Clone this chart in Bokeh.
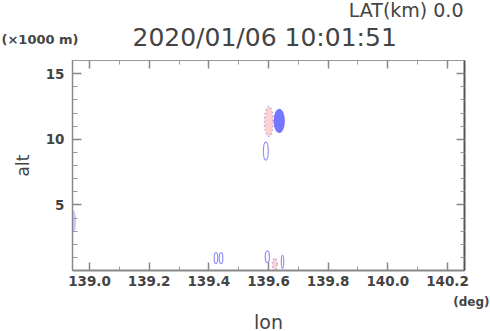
from bokeh.plotting import figure
from bokeh.models import Range1d, FixedTicker, LinearAxis, Title
from bokeh.embed import file_html
from bokeh.resources import INLINE

# ---- data ----
x_major = [139.0, 139.2, 139.4, 139.6, 139.8, 140.0, 140.2]
x_minor = [138.9, 139.1, 139.3, 139.5, 139.7, 139.9, 140.1, 140.3]
y_major = [5, 10, 15]
y_minor = [1, 2, 3, 4, 6, 7, 8, 9, 11, 12, 13, 14, 16]
x_labels = {139.0: "139.0", 139.2: "139.2", 139.4: "139.4", 139.6: "139.6",
            139.8: "139.8", 140.0: "140.0", 140.2: "140.2"}
title_text = "2020/01/06 10:01:51"
lat_text = "LAT(km) 0.0"
unit_y_text = "(\u00d71000 m)"
unit_x_text = "(deg)"
x_name = "lon"
y_name = "alt"

# filled echoes (lon, alt, width deg, height km)
fill_lon = [139.636, 138.947, 140.260]
fill_alt = [11.40, 3.75, 1.60]
fill_w = [0.038, 0.016, 0.012]
fill_h = [1.85, 1.70, 2.10]
fill_col = ["#7676ff", "#cacaff", "#cacaff"]

# pink echoes with dotted outline
pink_lon = [139.601, 139.621]
pink_alt = [11.35, 0.45]
pink_w = [0.030, 0.017]
pink_h = [2.30, 1.00]

# outline-only echoes
ring_lon = [139.591, 139.424, 139.441, 139.596, 139.647]
ring_alt = [9.10, 0.95, 0.95, 1.05, 0.65]
ring_w = [0.016, 0.012, 0.012, 0.014, 0.008]
ring_h = [1.38, 0.84, 0.84, 0.90, 1.00]

W, H = 490, 331
TXT = "#444444"
FONT = "DejaVu Sans"

p = figure(width=W, height=H, output_backend="svg", toolbar_location=None,
           x_range=Range1d(138.943, 140.257), y_range=Range1d(0, 16),
           min_border_left=72, min_border_right=26, min_border_top=60,
           min_border_bottom=61, x_axis_location=None, y_axis_location=None)
p.xgrid.visible = False
p.ygrid.visible = False
p.outline_line_color = "#8a8a8a"
p.outline_line_width = 1

p.ellipse(x=fill_lon, y=fill_alt, width=fill_w, height=fill_h,
          fill_color=fill_col, line_color=None)
p.ellipse(x=pink_lon, y=pink_alt, width=pink_w, height=pink_h,
          fill_color="#ffd0d0", line_color="#8c8cff", line_width=1.2,
          line_dash="1 3")
p.ellipse(x=ring_lon, y=ring_alt, width=ring_w, height=ring_h,
          fill_color=None, line_color="#9090ff", line_width=1.2)


def style_axis(ax, line_color, line_width, show_labels):
    ax.axis_line_color = line_color
    ax.axis_line_width = line_width
    ax.major_tick_in = 8
    ax.major_tick_out = 0
    ax.minor_tick_in = 4
    ax.minor_tick_out = 0
    ax.major_tick_line_color = "#888888"
    ax.minor_tick_line_color = "#999999"
    ax.major_tick_line_width = 1.5
    ax.major_label_text_font = FONT
    ax.major_label_text_font_style = "bold"
    ax.major_label_text_font_size = "13.5px"
    ax.major_label_text_color = TXT
    if not show_labels:
        ax.major_label_text_font_size = "0px"
        ax.major_label_standoff = 0


xb = LinearAxis(ticker=FixedTicker(ticks=x_major, minor_ticks=x_minor),
                major_label_overrides=x_labels)
style_axis(xb, "#888888", 2, True)
xb.major_label_standoff = 5
p.add_layout(xb, "below")

xt = LinearAxis(ticker=FixedTicker(ticks=x_major, minor_ticks=x_minor),
                major_label_overrides={t: "" for t in x_major})
style_axis(xt, "#999999", 1, False)
p.add_layout(xt, "above")

yl = LinearAxis(ticker=FixedTicker(ticks=y_major, minor_ticks=y_minor),
                axis_label=y_name)
style_axis(yl, "#888888", 1.5, True)
yl.major_label_standoff = 8
yl.minor_tick_in = 5
yl.major_tick_in = 9
yl.axis_label_text_font = FONT
yl.axis_label_text_font_size = "17px"
yl.axis_label_text_font_style = "normal"
yl.axis_label_text_color = TXT
yl.axis_label_standoff = 10
p.add_layout(yl, "left")

yr = LinearAxis(ticker=FixedTicker(ticks=y_major, minor_ticks=y_minor),
                major_label_overrides={t: "" for t in y_major})
style_axis(yr, "#555555", 2, False)
p.add_layout(yr, "right")


def ttl(text, size, align, offset, standoff, valign, bold=False):
    return Title(text=text, text_font=FONT, text_font_size=size,
                 text_font_style="bold" if bold else "normal",
                 text_color=TXT, align=align, offset=offset,
                 standoff=standoff, vertical_align=valign)


# above panel, stacked outward from the frame
p.add_layout(ttl(title_text, "25px", "left", 60, 18, "bottom"), "above")
p.add_layout(ttl(lat_text, "19px", "right", 1, -19, "bottom"), "above")
p.add_layout(ttl(unit_y_text, "13px", "left", -71, -81, "bottom", bold=True),
             "above")

# below panel, stacked outward from the frame
p.add_layout(ttl(unit_x_text, "12px", "right", -25, 12, "top", bold=True),
             "below")
p.add_layout(ttl(x_name, "19px", "center", 0, -12, "top"), "below")

open("out.html", "w").write(file_html(p, INLINE))
